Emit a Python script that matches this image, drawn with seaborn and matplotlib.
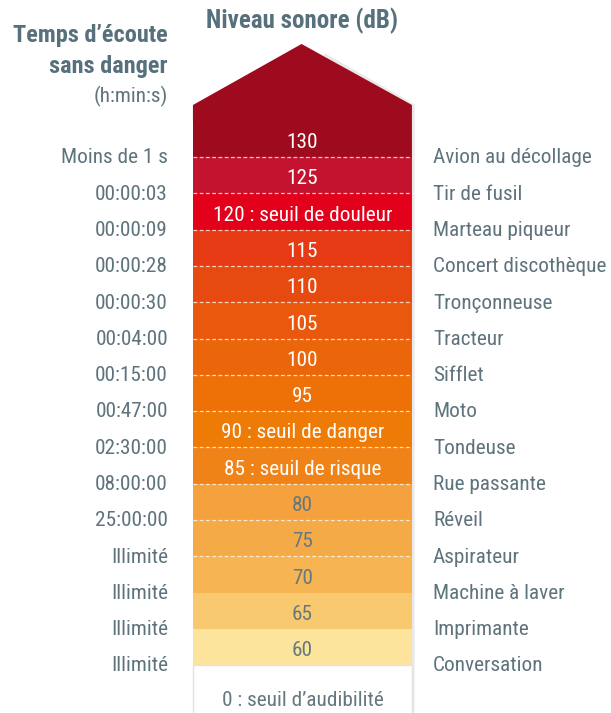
import numpy as np
import pandas as pd
import matplotlib
matplotlib.use("Agg")
import matplotlib.pyplot as plt
import seaborn as sns
from matplotlib import font_manager
from matplotlib.font_manager import FontProperties
from matplotlib.patches import Polygon, Rectangle

# ---------------- data ----------------
levels = [130, 125, 120, 115, 110, 105, 100, 95, 90, 85, 80, 75, 70, 65, 60]
band_labels = ["130", "125", "120 : seuil de douleur", "115", "110", "105", "100",
               "95", "90 : seuil de danger", "85 : seuil de risque", "80", "75",
               "70", "65", "60"]
safe_times = ["Moins de 1 s", "00:00:03", "00:00:09", "00:00:28", "00:00:30",
              "00:04:00", "00:15:00", "00:47:00", "02:30:00", "08:00:00",
              "25:00:00", "Illimité", "Illimité", "Illimité", "Illimité"]
sources = ["Avion au décollage", "Tir de fusil", "Marteau piqueur",
           "Concert discothèque", "Tronçonneuse", "Tracteur", "Sifflet", "Moto",
           "Tondeuse", "Rue passante", "Réveil", "Aspirateur", "Machine à laver",
           "Imprimante", "Conversation"]
band_extent = [1, 1, 1, 1, 1, 1, 1, 1, 1, 1, 1, 1, 1, 1, 1]
band_colors = ["#9E0B1F", "#C3132E", "#E2001A", "#E53A14", "#E74A10", "#E9580C",
               "#EB650A", "#ED7107", "#EE7B06", "#EF8318", "#F4A13E", "#F5AA48",
               "#F6B453", "#F9C970", "#FDE49C"]
light_text_rows = 10  # rows drawn with white labels
bottom_label = "0 : seuil d’audibilité"
title = "Niveau sonore (dB)"
left_header = ["Temps d’écoute", "sans danger"]
left_sub = "(h:min:s)"

# ---------------- fonts ----------------
def pick_font(bold):
    pref_names = ["Roboto Condensed", "Open Sans Condensed", "Liberation Sans Narrow"]
    entries = font_manager.fontManager.ttflist
    def wnum(w):
        if isinstance(w, (int, float)):
            return w
        return {"light": 300, "normal": 400, "regular": 400, "book": 400,
                "medium": 500, "semibold": 600, "demibold": 600, "bold": 700,
                "heavy": 800, "black": 900}.get(str(w).lower(), 400)
    target = 700 if bold else 400
    cands = []
    for rank, nm in enumerate(pref_names):
        for f in entries:
            if f.name == nm and f.style == "normal":
                cands.append((rank, abs(wnum(f.weight) - target), f.fname))
    for f in entries:
        if f.name in ("Noto Sans", "Open Sans", "DejaVu Sans", "Roboto") and \
                str(f.stretch) in ("condensed", "semi-condensed") and f.style == "normal":
            cands.append((10, abs(wnum(f.weight) - target), f.fname))
    if cands:
        cands.sort()
        return cands[0][2]
    return None

reg_path = pick_font(False)
bold_path = pick_font(True)

def fp(size, bold=False):
    path = bold_path if bold else reg_path
    if path:
        return FontProperties(fname=path, size=size)
    return FontProperties(family="DejaVu Sans", size=size * 0.82,
                          weight="bold" if bold else "normal", stretch="condensed")

# ---------------- figure ----------------
sns.set_theme(style="white")
fig = plt.figure(figsize=(6.11, 7.13), dpi=100)
fig.patch.set_facecolor("white")
ax = fig.add_axes([0, 0, 1, 1])

df = pd.DataFrame({"label": band_labels, "extent": band_extent, "level": levels})
sns.barplot(data=df, x="extent", y="label", hue="label", order=band_labels,
            hue_order=band_labels, palette=band_colors, orient="h", width=1.0,
            saturation=1, legend=False, linewidth=0, ax=ax)

ax.set_xlim(-0.881, 1.909)
ax.set_ylim(15.817, -3.830)
ax.axis("off")

# arrow head on top of the column
ax.add_patch(Polygon([(0, -0.49), (0, -0.937), (0.496, -2.618), (1, -0.937), (1, -0.49)],
                     closed=True, facecolor=band_colors[0], edgecolor="none", zorder=2))

# subtle right-side shadow
ax.plot([0.6, 1.006, 1.006], [-2.33, -0.93, 15.8], color="#cfcfcf", lw=2.0, alpha=0.45,
        zorder=1, solid_capstyle="butt")

# bottom white box
ax.add_patch(Rectangle((0, len(levels) - 0.5), 1, 2.0, facecolor="white",
                       edgecolor="#e2e2e2", lw=1.0, zorder=1))

# dashed separators
for i in range(12):
    ax.plot([0, 1], [i + 0.5, i + 0.5], color="white", lw=0.9, alpha=0.75,
            linestyle=(0, (3, 2)), zorder=3)

grey = "#5f737d"
head = "#56707c"
center_x = 0.5
lab_size = 15.3
for i, lab in enumerate(band_labels):
    col = "white" if i < light_text_rows else "#64797f"
    ax.text(center_x, i + 0.1, lab, ha="center", va="center", color=col,
            fontproperties=fp(lab_size), zorder=4)
    ax.text(-0.114, i + 0.52, safe_times[i], ha="right", va="center", color=grey,
            fontproperties=fp(lab_size), zorder=4)
    ax.text(1.096, i + 0.52, sources[i], ha="left", va="center", color=grey,
            fontproperties=fp(lab_size), zorder=4)

ax.text(center_x, 15.46, bottom_label, ha="center", va="center", color="#64797f",
        fontproperties=fp(lab_size), zorder=4)

ax.text(0.496, -3.26, title, ha="center", va="center", color=head,
        fontproperties=fp(18, bold=True))
ax.text(-0.114, -2.86, left_header[0], ha="right", va="center", color=head,
        fontproperties=fp(17.5, bold=True))
ax.text(-0.114, -2.01, left_header[1], ha="right", va="center", color=head,
        fontproperties=fp(17.5, bold=True))
ax.text(-0.114, -1.16, left_sub, ha="right", va="center", color=grey,
        fontproperties=fp(15.3))

fig.savefig("out.png", dpi=100, facecolor="white")
